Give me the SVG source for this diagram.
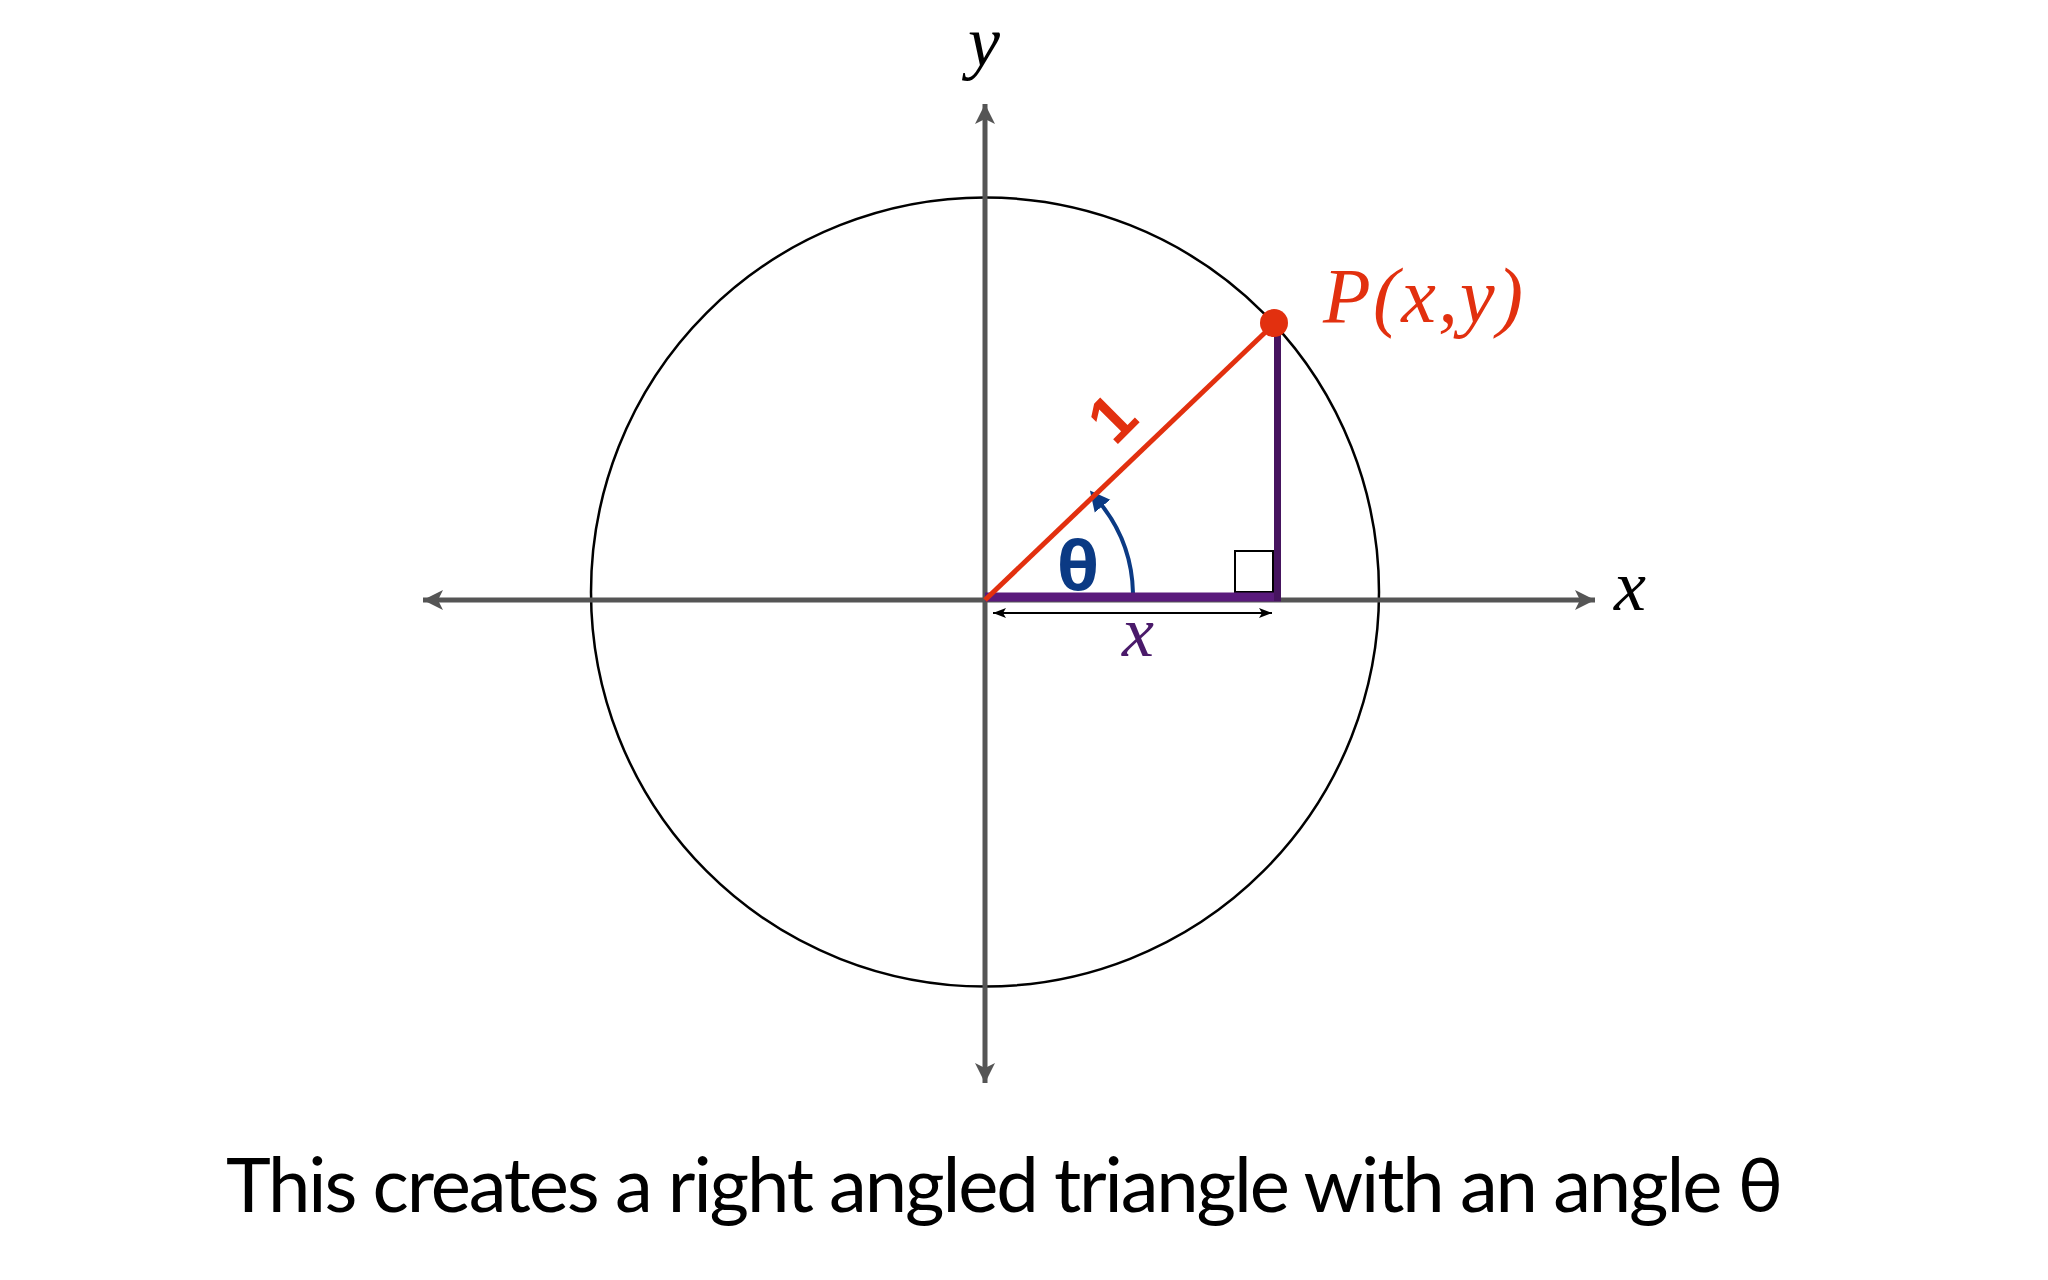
<svg xmlns="http://www.w3.org/2000/svg" width="2048" height="1280" viewBox="0 0 2048 1280">
  <style>
    .axis { stroke: #555555; stroke-width: 5; fill: none; }
    .serif { font-family: "Liberation Serif", "Times New Roman", serif; font-style: italic; }
    .caption { font-family: Lato, "Noto Sans", "Liberation Sans", sans-serif; font-size: 76px; fill: #000; }
  </style>
  <defs>
    <marker id="axisHead" markerUnits="userSpaceOnUse" markerWidth="24" markerHeight="24" viewBox="0 0 24 24" refX="20" refY="12" orient="auto">
      <path d="M0,2 L20,12 L0,22 L5,12 Z" fill="#555555"/>
    </marker>
    <marker id="dimHead" markerUnits="userSpaceOnUse" markerWidth="14" markerHeight="12" viewBox="0 0 14 12" refX="13" refY="6" orient="auto-start-reverse">
      <path d="M0,1 L13,6 L0,11 L3,6 Z" fill="#000000"/>
    </marker>
    <marker id="arcHead" markerUnits="userSpaceOnUse" markerWidth="24" markerHeight="24" viewBox="0 0 24 24" refX="4" refY="12" orient="auto">
      <path d="M0,2 L20,12 L0,22 Z" fill="#0b3a84"/>
    </marker>
  </defs>

  <rect width="2048" height="1280" fill="#ffffff"/>

  <g id="circle">
    <ellipse cx="985" cy="592" rx="394" ry="394.5" fill="none" stroke="#000000" stroke-width="2.5"/>
  </g>

  <g id="connectors">
    <line class="axis" x1="985" y1="600" x2="1595" y2="600" marker-end="url(#axisHead)"/>
    <line class="axis" x1="985" y1="600" x2="423" y2="600" marker-end="url(#axisHead)"/>
    <line class="axis" x1="985" y1="600" x2="985" y2="104" marker-end="url(#axisHead)"/>
    <line class="axis" x1="985" y1="600" x2="985" y2="1083" marker-end="url(#axisHead)"/>
    <line x1="993" y1="613" x2="1272" y2="613" stroke="#000000" stroke-width="2" marker-start="url(#dimHead)" marker-end="url(#dimHead)"/>
    <path d="M1133,593 A148,148 0 0 0 1100,503" fill="none" stroke="#0b3a84" stroke-width="4" marker-end="url(#arcHead)"/>
  </g>

  <g id="triangle">
    <rect x="1235" y="551" width="38" height="41" fill="none" stroke="#000000" stroke-width="2"/>
    <line x1="985" y1="597" x2="1281" y2="597" stroke="#5a1a7c" stroke-width="9"/>
    <line x1="1277.5" y1="325" x2="1277.5" y2="601" stroke="#46145f" stroke-width="7"/>
    <line x1="985" y1="600" x2="1275" y2="323" stroke="#e2300f" stroke-width="5"/>
    <circle cx="1274" cy="323" r="14" fill="#e2300f"/>
  </g>

  <g id="labels">
    <text class="serif" x="984" y="66" font-size="72" text-anchor="middle" fill="#000000">y</text>
    <text class="serif" x="1630" y="610" font-size="72" text-anchor="middle" fill="#000000">x</text>
    <text class="serif" x="1138" y="656" font-size="72" text-anchor="middle" fill="#4a1a6a">x</text>
    <text class="serif" x="1323" y="322" font-size="78" fill="#e2300f" textLength="200" lengthAdjust="spacing">P(x,y)</text>
    <text x="1078" y="590" font-family="'Open Sans', 'DejaVu Sans', sans-serif" font-weight="bold" font-size="68" text-anchor="middle" fill="#0b3a84">θ</text>
    <text x="0" y="0" transform="translate(1111,417) rotate(-45)" font-family="'Liberation Sans', Arial, sans-serif" font-weight="bold" font-size="66" text-anchor="middle" dy="24" fill="#e2300f">1</text>
  </g>

  <g id="caption">
    <text class="caption" x="226" y="1212" textLength="1557" lengthAdjust="spacing">This creates a right angled triangle with an angle θ</text>
  </g>
</svg>
